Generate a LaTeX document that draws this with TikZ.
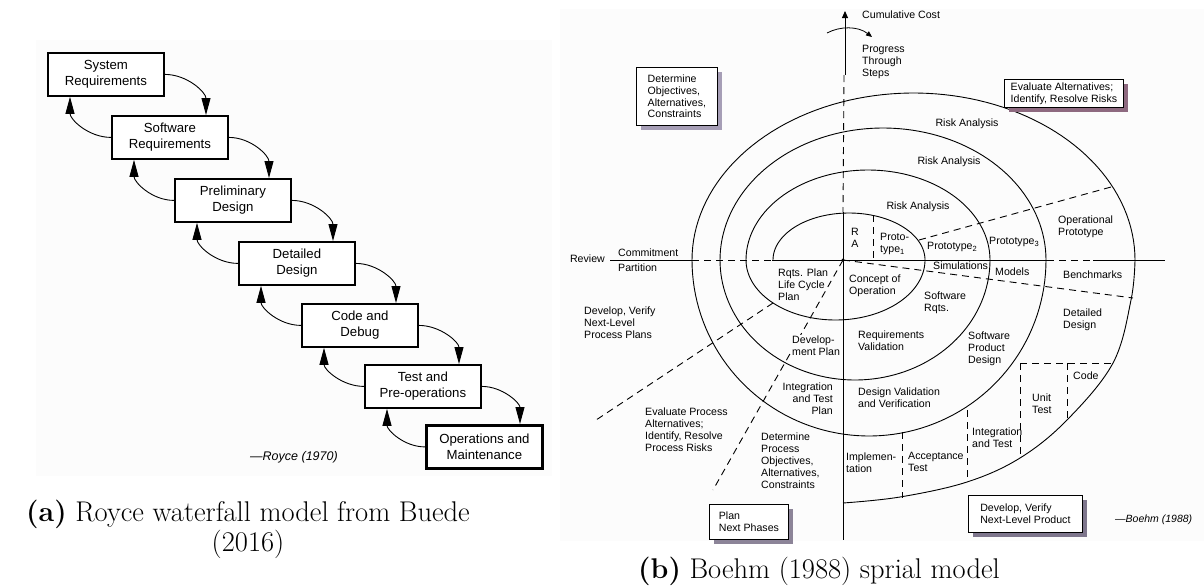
\documentclass[tikz,border=0pt]{standalone}
\usepackage{fontspec}
\newfontfamily\helv{Liberation Sans}
\usetikzlibrary{arrows.meta,calc,shadows}
\newcommand\lowsub[1]{\raisebox{-0.35ex}{\fontsize{7.5}{8}\selectfont #1}}
\definecolor{shadeA}{HTML}{A69EB6}
\definecolor{shadeB}{HTML}{8E6A80}
\definecolor{shadeC}{HTML}{8C8498}
\definecolor{shadeD}{HTML}{7E768C}
\colorlet{paper}{black!1.2}
\begin{document}
\begin{tikzpicture}[x=1pt,y=1pt,
  wbox/.style={draw, line width=1.8pt, minimum width=116pt, minimum height=43pt,
    inner sep=0pt, align=center, fill=white, font=\helv\fontsize{13.2}{16}\selectfont},
  flow/.style={line width=0.9pt, -{Triangle[length=17pt,width=9pt]}},
  lbl/.style={inner sep=0pt, align=left, anchor=north west, font=\helv\fontsize{10.6}{11.8}\selectfont},
  one/.style={inner sep=0pt, font=\helv\fontsize{10.6}{11.8}\selectfont},
  arcline/.style={line width=0.9pt},
  dline/.style={line width=0.9pt, dash pattern=on 7pt off 5pt},
  sbox/.style={draw, line width=0.8pt, fill=white, inner sep=0pt, align=left, anchor=north west,
    font=\helv\fontsize{10.6}{11.8}\selectfont,
    drop shadow={shadow xshift=5pt, shadow yshift=-5pt, fill=#1, opacity=1}},
  captext/.style={font=\fontsize{28.5}{30}\selectfont, align=center, inner sep=0pt}
]
\useasboundingbox (0,0) rectangle (1204,-587);

% faint paper tone behind both drawings
\fill[paper] (36,-40) rectangle (552,-476);
\fill[paper] (560,-9) rectangle (1204,-541);

% ---------------- waterfall ----------------
\node[wbox, anchor=north west] (sys)    at (47,-52)   {System\\Requirements};
\node[wbox, anchor=north west] (soft)   at (111,-115) {Software\\Requirements};
\node[wbox, anchor=north west] (prel)   at (174,-178) {Preliminary\\Design};
\node[wbox, anchor=north west] (det)    at (238,-241) {Detailed\\Design};
\node[wbox, anchor=north west] (code)   at (301,-303) {Code and\\Debug};
\node[wbox, anchor=north west] (test)   at (364,-364) {Test and\\Pre-operations};
\node[wbox, anchor=north west, line width=2.8pt] (ops) at (425,-424) {Operations and\\Maintenance};

\foreach \a/\b in {sys/soft, soft/prel, prel/det, det/code, code/test, test/ops}{
  \draw[flow] (\a.east) to[out=0,in=90] ($(\b.north west)+(95,0)$);
  \draw[flow] (\b.west) to[out=180,in=-90] ($(\a.south west)+(23,0)$);
}
\node[inner sep=0pt, anchor=west, font=\helv\itshape\fontsize{12.5}{14}\selectfont] (royce) at (250,-457) {—Royce (1970)};

% ---------------- spiral ----------------
% axes
\coordinate (ctr) at (843,-260);
\coordinate (vtop) at (845,-11);
\draw[arcline, -{Triangle[length=7pt,width=6pt]}] (845,-75) -- (vtop);
\draw[dline] (844,-75) -- (843,-212);
\draw[arcline] (843,-212) -- (ctr) -- (843,-540);
\draw[arcline] (610,-260) -- (692,-260);
\draw[dline] (692,-260) -- (772,-260);
\draw[arcline] (772,-260) -- (1047,-260);
\draw[dline] (1047,-260) -- (1093,-260);
\draw[arcline] (1093,-260) -- (1165,-260);
\fill (ctr) circle (1.6);

% progress arrow
\draw[line width=0.8pt, -{Triangle[length=6pt,width=5pt]}] (827,-33) .. controls (840,-26) and (858,-26) .. (872,-37);

% upper half arcs
\draw[arcline] plot[domain=0:180,samples=80,variable=\t] ({849+76*cos(\t)},{-260+47*sin(\t)});
\draw[arcline] plot[domain=0:180,samples=80,variable=\t] ({868+122*cos(\t)},{-260+90*sin(\t)});
\draw[arcline] plot[domain=0:180,samples=80,variable=\t] ({883+163*cos(\t)},{-260+132*sin(\t)});
\draw[arcline] plot[domain=0:180,samples=80,variable=\t] ({913.5+221.5*cos(\t)},{-260+167*sin(\t)});
% lower half arcs
\draw[arcline] plot[domain=180:360,samples=80,variable=\t] ({835.5+89.5*cos(\t)},{-260+60*sin(\t)});
\draw[arcline] plot[domain=180:360,samples=80,variable=\t] ({855+135*cos(\t)},{-260+120*sin(\t)});
\draw[arcline] plot[domain=180:360,samples=80,variable=\t] ({869+177*cos(\t)},{-260+176*sin(\t)});
\draw[arcline] plot[smooth,tension=0.6] coordinates {(1135,-260) (1131,-300) (1113,-363) (1067,-420) (1020,-458) (967,-482) (900,-497) (843,-503)};

% radial dashed lines
\draw[dline] (919,-240) -- (1111,-187);
\draw[dline] (873,-215) -- (873,-260);
\draw[dline] (ctr) -- (1133,-298);
\draw[dline] (ctr) -- (713,-490);
\draw[dline] (773,-303) -- (593,-422);
% product quadrant partitions
\draw[dline] (1020,-363) -- (1113,-363);
\draw[dline] (1020,-363) -- (1020,-458);
\draw[dline] (1067,-363) -- (1067,-422);
\draw[dline] (967,-410) -- (967,-482);
\draw[dline] (902,-432) -- (902,-498);

% quadrant boxes
\node[sbox=shadeA, minimum width=81pt, minimum height=58pt] (qa) at (636,-67) {Determine\\Objectives,\\Alternatives,\\Constraints};
\node[sbox=shadeB, minimum width=119pt, minimum height=28pt] (qb) at (1004,-79) {Evaluate Alternatives;\\Identify, Resolve Risks};
\node[sbox=shadeC, minimum width=79pt, minimum height=35pt] (qc) at (709,-504) {Plan\\Next Phases};
\node[sbox=shadeD, minimum width=114pt, minimum height=37pt] (qd) at (968,-495) {Develop, Verify\\Next-Level Product};

% labels
\node[one, anchor=west] (cc) at (862,-15) {Cumulative Cost};
\node[lbl] (pts) at (862,-45) {Progress\\Through\\Steps};
\node[one] (ra1) at (967,-124) {Risk Analysis};
\node[one] (ra2) at (949,-162) {Risk Analysis};
\node[one] (ra3) at (918,-207) {Risk Analysis};
\node[one, align=center] (rra) at (855,-238) {R\\A};
\node[lbl] (p1) at (880,-233) {Proto-\\type\lowsub{1}};
\node[one, anchor=west] (p2) at (927,-247) {Prototype\lowsub{2}};
\node[one, anchor=west] (p3) at (989,-242) {Prototype\lowsub{3}};
\node[lbl] (opp) at (1058,-216) {Operational\\Prototype};
\node[one, anchor=west] (sim) at (933,-266) {Simulations};
\node[one, anchor=west] (mod) at (995,-272) {Models};
\node[one, anchor=west] (ben) at (1063,-275) {Benchmarks};
\node[lbl] (coo) at (849,-275) {Concept of\\Operation};
\node[lbl] (srq) at (924,-292) {Software\\Rqts.};
\node[lbl] (rqv) at (858,-331) {Requirements\\Validation};
\node[lbl] (spd) at (968,-332) {Software\\Product\\Design};
\node[lbl] (ddg) at (1063,-309) {Detailed\\Design};
\node[lbl] (dvv) at (858,-388) {Design Validation\\and Verification};
\node[lbl, align=right, anchor=north east] (itp) at (833,-383) {Integration\\and Test\\Plan};
\node[lbl] (rpl) at (778,-269) {Rqts. Plan\\Life Cycle\\Plan};
\node[lbl, fill=paper, inner sep=1pt] (dpl) at (791,-335) {Develop-\\ment Plan};
\node[one, anchor=west] (cod) at (1073,-376) {Code};
\node[lbl] (ut) at (1032,-394) {Unit\\Test};
\node[lbl] (iat) at (972,-428) {Integration\\and Test};
\node[lbl] (act) at (908,-452) {Acceptance\\Test};
\node[lbl] (imp) at (846,-453) {Implemen-\\tation};
\node[one, anchor=east] (rev) at (605,-259) {Review};
\node[one, anchor=west] (com) at (618,-253) {Commitment};
\node[one, anchor=west] (par) at (618,-268) {Partition};
\node[lbl] (dvp) at (584,-307) {Develop, Verify\\Next-Level\\Process Plans};
\node[lbl] (epa) at (645,-408) {Evaluate Process\\Alternatives;\\Identify, Resolve\\Process Risks};
\node[lbl] (dpo) at (761,-433) {Determine\\Process\\Objectives,\\Alternatives,\\Constraints};
\node[inner sep=0pt, anchor=west, font=\helv\itshape\fontsize{10.5}{12}\selectfont] (boehm) at (1115,-520) {—Boehm (1988)};

% ---------------- captions ----------------
\node[captext, anchor=north] (capa) at (248,-500) {\textbf{(a)} Royce waterfall model from Buede\\(2016)};
\node[captext, anchor=base] (capb) at (819,-578) {\textbf{(b)} Boehm (1988) sprial model};
\end{tikzpicture}
\end{document}
